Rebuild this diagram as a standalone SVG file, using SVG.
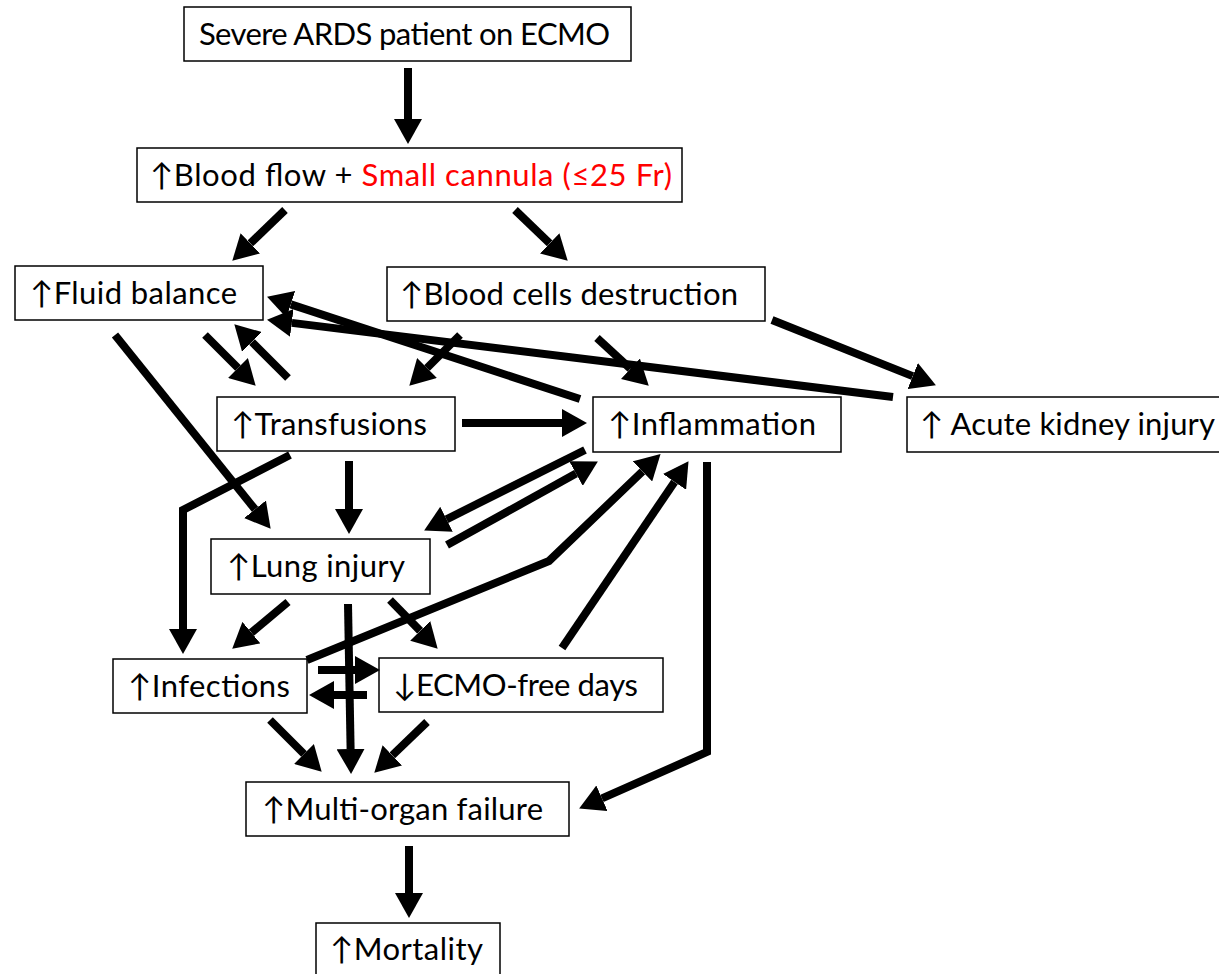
<svg xmlns="http://www.w3.org/2000/svg" width="1219" height="974" viewBox="0 0 1219 974">
<style>
.box{fill:#fff;stroke:#000;stroke-width:1.5}
.t{font-family:Lato,"Liberation Sans",sans-serif;font-size:31px;fill:#000}
.red{fill:#FF0000}
.c{fill:none;stroke:#000;stroke-width:8;stroke-linejoin:miter;marker-end:url(#ah)}
</style>
<defs>
<marker id="ah" markerUnits="userSpaceOnUse" markerWidth="26" markerHeight="28" refX="0" refY="14" orient="auto" viewBox="0 0 26 28">
<path d="M0,0 L25,14 L0,28 Z" fill="#000"/>
</marker>
</defs>
<rect width="1219" height="974" fill="#fff"/>
<g id="nodes">
<g id="n-ards"><rect class="box" x="184" y="7" width="447" height="54"/><text class="t" x="199" y="45" textLength="411" lengthAdjust="spacing">Severe ARDS patient on ECMO</text></g>
<g id="n-flow"><rect class="box" x="137" y="148" width="545" height="54"/><text class="t" x="150" y="186" textLength="522" lengthAdjust="spacing">↑Blood flow + <tspan class="red">Small cannula (≤25 Fr)</tspan></text></g>
<g id="n-fluid"><rect class="box" x="15" y="266" width="248" height="54"/><text class="t" x="30" y="304" textLength="207" lengthAdjust="spacing">↑Fluid balance</text></g>
<g id="n-cells"><rect class="box" x="387" y="267" width="378" height="54"/><text class="t" x="400" y="305" textLength="338" lengthAdjust="spacing">↑Blood cells destruction</text></g>
<g id="n-transf"><rect class="box" x="217" y="397" width="238" height="54"/><text class="t" x="231" y="435" textLength="196" lengthAdjust="spacing">↑Transfusions</text></g>
<g id="n-infl"><rect class="box" x="593" y="397" width="248" height="55"/><text class="t" x="608" y="435" textLength="208" lengthAdjust="spacing">↑Inflammation</text></g>
<g id="n-aki"><rect class="box" x="907" y="397" width="318" height="55"/><text class="t" x="920" y="435" textLength="295" lengthAdjust="spacing">↑ Acute kidney injury</text></g>
<g id="n-lung"><rect class="box" x="211" y="539" width="219" height="55"/><text class="t" x="227" y="577" textLength="178" lengthAdjust="spacing">↑Lung injury</text></g>
<g id="n-inf"><rect class="box" x="113" y="659" width="194" height="54"/><text class="t" x="128" y="697" textLength="162" lengthAdjust="spacing">↑Infections</text></g>
<g id="n-ecmo"><rect class="box" x="379" y="658" width="284" height="54"/><text class="t" x="393" y="696" textLength="245" lengthAdjust="spacing">↓ECMO-free days</text></g>
<g id="n-mof"><rect class="box" x="246" y="782" width="323" height="54"/><text class="t" x="262" y="820" textLength="281" lengthAdjust="spacing">↑Multi-organ failure</text></g>
<g id="n-mort"><rect class="box" x="316" y="923" width="184" height="60"/><text class="t" x="330" y="960" textLength="153" lengthAdjust="spacing">↑Mortality</text></g>
</g>
<g id="connectors">
<path class="c" d="M408,68 V119"/>
<path class="c" d="M285,210 L250.3,243.4"/>
<path class="c" d="M515,210 L549.7,243.4"/>
<path class="c" d="M115,335 L255,509.3"/>
<path class="c" d="M205,335 L238,368"/>
<path class="c" d="M288,378 L252,342"/>
<path class="c" d="M460,335 L427,368"/>
<path class="c" d="M597,338 L630.4,368.8"/>
<path class="c" d="M772,320 L912.7,376.1"/>
<path class="c" d="M580,399 L290.8,304.4"/>
<path class="c" d="M893,397 L291.8,322.9"/>
<path class="c" d="M462,423 H562"/>
<path class="c" d="M290,455 L183,510 V629"/>
<path class="c" d="M349,461 V509"/>
<path class="c" d="M585,450 L446.5,519.3"/>
<path class="c" d="M447,545 L576,473.6"/>
<path class="c" d="M307,660 L549,561 L642.5,471.4"/>
<path class="c" d="M562,648 L674.5,481.9"/>
<path class="c" d="M707,462 V752 L602,798.3"/>
<path class="c" d="M288,602 L251.4,632.6"/>
<path class="c" d="M390,600 L420.2,630.9"/>
<path class="c" d="M348,604 L350.6,749"/>
<path class="c" d="M318,670 H355"/>
<path class="c" d="M367,695 H334"/>
<path class="c" d="M270,720 L304,754"/>
<path class="c" d="M427,722 L392.3,755.4"/>
<path class="c" d="M409,846 V893"/>
</g>
</svg>
